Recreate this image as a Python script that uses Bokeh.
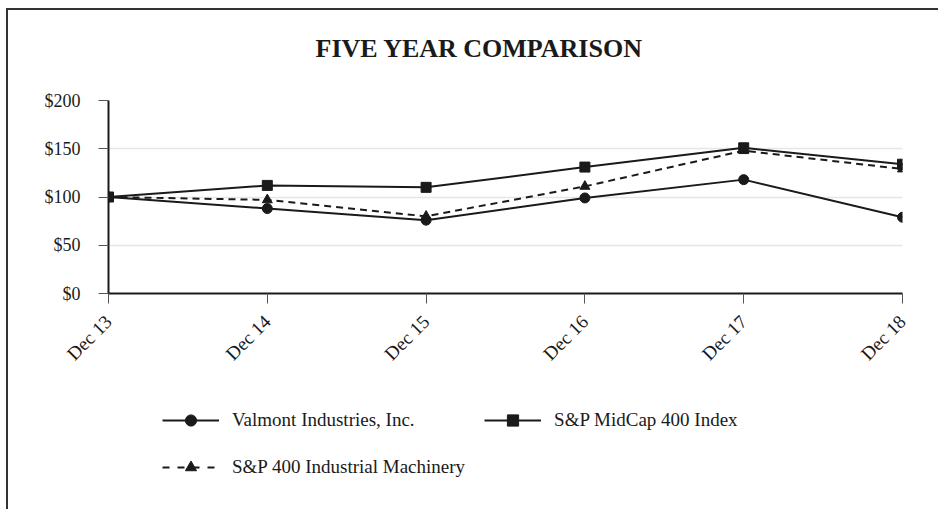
from math import pi
from bokeh.plotting import figure
from bokeh.layouts import column
from bokeh.models import Legend, LegendItem, FixedTicker, Range1d
from bokeh.embed import file_html
from bokeh.resources import INLINE

# ---- data ----
years = ["Dec 13", "Dec 14", "Dec 15", "Dec 16", "Dec 17", "Dec 18"]
valmont = [100, 88, 76, 99, 118, 79]
midcap = [100, 112, 110, 131, 151, 134]
machinery = [100, 97, 80, 111, 148, 129]
y_ticks = [0, 50, 100, 150, 200]
y_labels = ["$0", "$50", "$100", "$150", "$200"]
title_text = "FIVE YEAR COMPARISON"
names = ["Valmont Industries, Inc.", "S&P MidCap 400 Index", "S&P 400 Industrial Machinery"]

x = list(range(len(years)))
SERIF = "Liberation Serif"
INK = "#1a1a1a"

# ---- main chart ----
p = figure(frame_width=794, frame_height=193, output_backend="svg", toolbar_location=None,
           x_range=Range1d(0, len(years) - 1), y_range=Range1d(0, 200),
           min_border_left=100, min_border_right=36, min_border_top=90,
           min_border_bottom=80, title=title_text)
p.outline_line_color = None
p.background_fill_color = "white"
p.border_fill_color = "white"

p.title.text_font = SERIF
p.title.text_font_size = "26px"
p.title.text_font_style = "bold"
p.title.text_color = INK
p.title.align = "left"
p.title.offset = 207
p.title.padding = (0, 0, 0, 38)
p.title.standoff = 0

p.xaxis.ticker = FixedTicker(ticks=x)
p.xaxis.major_label_overrides = {i: years[i] for i in x}
p.xaxis.major_label_orientation = pi / 4
p.yaxis.ticker = FixedTicker(ticks=y_ticks)
p.yaxis.major_label_overrides = {t: l for t, l in zip(y_ticks, y_labels)}
for ax in (p.xaxis, p.yaxis):
    ax.axis_line_color = INK
    ax.axis_line_width = 2
    ax.major_tick_line_color = "#555"
    ax.major_tick_line_width = 1
    ax.major_tick_in = 0
    ax.major_tick_out = 10
    ax.minor_tick_line_color = None
    ax.major_label_text_font = SERIF
    ax.major_label_text_color = INK
p.xaxis.major_label_text_font_size = "19px"
p.yaxis.major_label_text_font_size = "18px"
p.xaxis.major_label_standoff = 15
p.yaxis.major_label_standoff = 18

p.xgrid.grid_line_color = None
p.ygrid.grid_line_color = "#e6e6e6"
p.ygrid.grid_line_width = 1.5

styles = [
    dict(marker="circle", dash="solid"),
    dict(marker="square", dash="solid"),
    dict(marker="triangle", dash="7 5"),
]
series = [valmont, midcap, machinery]
for i in (0, 2, 1):
    p.line(x, series[i], line_color=INK, line_width=2, line_dash=styles[i]["dash"])
    p.scatter(x, series[i], marker=styles[i]["marker"], size=10, fill_color=INK, line_color=INK)

# ---- legend strip (same series, drawn outside its view so only the legend shows) ----
p2 = figure(width=930, height=135, output_backend="svg", toolbar_location=None,
            x_range=Range1d(0, 1), y_range=Range1d(0, 1),
            x_axis_location=None, y_axis_location=None,
            min_border=0)
p2.outline_line_color = None
p2.xgrid.grid_line_color = None
p2.ygrid.grid_line_color = None
p2.border_fill_color = "white"

items = []
for name, vals, st in zip(names, series, styles):
    rl = p2.line(x, vals, line_color=INK, line_width=2,
                 line_dash="7 8" if st["dash"] != "solid" else "solid")
    rm = p2.scatter(x, vals, marker=st["marker"], size=10, fill_color=INK, line_color=INK)
    items.append(LegendItem(label=name, renderers=[rl, rm]))

legend = Legend(items=items, orientation="horizontal", ncols=2, location=(54, 28))
legend.border_line_color = None
legend.background_fill_alpha = 0
legend.padding = 0
legend.margin = 0
legend.glyph_width = 57
legend.glyph_height = 28
legend.label_height = 28
legend.spacing = 19
legend.label_standoff = 13
legend.label_text_font = SERIF
legend.label_text_font_size = "19px"
legend.label_text_color = INK
p2.add_layout(legend, "center")

layout = column(p, p2, spacing=0,
                styles={"border-left": "2px solid #333", "border-top": "2px solid #333",
                        "margin-left": "6px", "margin-top": "8px"})

open("out.html", "w").write(file_html(layout, INLINE))
